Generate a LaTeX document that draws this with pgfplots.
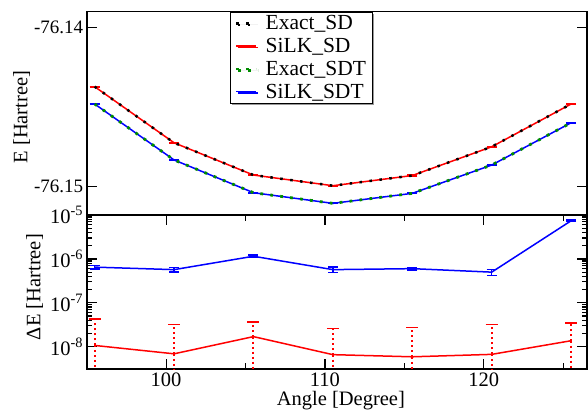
\documentclass[border=0pt]{standalone}
\usepackage{pgfplots}
\pgfplotsset{compat=1.18}
\usepackage{fontspec}
\setmainfont{Liberation Serif}
\usetikzlibrary{shadows}
\newcommand\ff{\fontsize{20.5}{22}\selectfont}
\newcommand\fl{\fontsize{21.5}{23}\selectfont}
\newcommand\fy{\fontsize{19}{21}\selectfont}
\definecolor{dgreen}{RGB}{0,140,0}
\begin{document}
\begin{tikzpicture}[x=1pt,y=1pt]
\pgfplotsset{
  every axis/.append style={
    scale only axis,
    width=500.3pt,
    axis line style={line width=1.6pt},
    every tick/.style={black,line width=1.2pt},
    major tick length=10pt,
    minor tick length=6pt,
    tick align=inside,
    tick label style={font=\ff},
    label style={font=\ff},
    clip=true,
  },
}
% ---------------- top panel ----------------
\begin{axis}[
  at={(86.7pt,197pt)}, anchor=south west,
  height=203.3pt,
  xmin=95, xmax=126.5,
  ymin=-76.151792, ymax=-76.139006,
  xtick=\empty,
  ytick={-76.15,-76.14},
  yticklabels={-76.15,-76.14},
  yticklabel style={font=\fy},
  ytick pos=both,
  ylabel={E [Hartree]},
  ylabel style={at={(axis description cs:-0.1303,0.482)}, anchor=center},
  legend cell align=left,
  legend image code/.code={\draw[#1] (0pt,0pt) -- (20pt,0pt);},
  legend style={at={(axis description cs:0.2864,1)}, anchor=north west,
    draw=black, line width=0.8pt, inner xsep=4.5pt, inner ysep=2.5pt,
    row sep=5pt, column sep=6pt,
    drop shadow={shadow xshift=1.5pt, shadow yshift=-1.5pt, fill=gray!80, opacity=1},
    nodes={font=\fl, inner xsep=2pt, inner ysep=1pt}},
]
\addlegendimage{black, line width=2.5pt, dash pattern=on 2.5pt off 7.5pt}
\addlegendentry{Exact\_SD}
\addlegendimage{red, line width=1.5pt}
\addlegendentry{SiLK\_SD}
\addlegendimage{dgreen, line width=2.8pt, dash pattern=on 2.8pt off 7.2pt}
\addlegendentry{Exact\_SDT}
\addlegendimage{blue, line width=1.5pt}
\addlegendentry{SiLK\_SDT}
% SiLK_SD
\addplot[red, line width=1.5pt, mark=none, forget plot,
  error bars/.cd, y dir=both, y explicit,
  error bar style={red, line width=1.5pt},
  error mark options={rotate=90, mark size=5pt, red, line width=1.5pt}]
coordinates {
 (95.5,-76.14372) +- (0,0.00002)
 (100.5,-76.14725) +- (0,0.00002)
 (105.5,-76.14928) +- (0,0.00002)
 (110.5,-76.14995) +- (0,0.00002)
 (115.5,-76.14931) +- (0,0.00002)
 (120.5,-76.14750) +- (0,0.00002)
 (125.5,-76.14481) +- (0,0.00002)
};
% Exact_SD
\addplot[black, line width=2.5pt, dash pattern=on 2.5pt off 7.5pt, mark=none, forget plot]
coordinates {
 (95.5,-76.14372) (100.5,-76.14725) (105.5,-76.14928) (110.5,-76.14995)
 (115.5,-76.14931) (120.5,-76.14750) (125.5,-76.14481)
};
% SiLK_SDT
\addplot[blue, line width=1.5pt, mark=none, forget plot,
  error bars/.cd, y dir=both, y explicit,
  error bar style={blue, line width=1.5pt},
  error mark options={rotate=90, mark size=5pt, blue, line width=1.5pt}]
coordinates {
 (95.5,-76.14481) +- (0,0.00002)
 (100.5,-76.14833) +- (0,0.00002)
 (105.5,-76.15039) +- (0,0.00002)
 (110.5,-76.15106) +- (0,0.00002)
 (115.5,-76.15043) +- (0,0.00002)
 (120.5,-76.14865) +- (0,0.00002)
 (125.5,-76.14599) +- (0,0.00002)
};
% Exact_SDT
\addplot[dgreen, line width=2.8pt, dash pattern=on 2.8pt off 7.2pt, mark=none, forget plot]
coordinates {
 (95.5,-76.14481) (100.5,-76.14833) (105.5,-76.15039) (110.5,-76.15106)
 (115.5,-76.15043) (120.5,-76.14865) (125.5,-76.14599)
};
\end{axis}
% ---------------- bottom panel ----------------
\begin{axis}[
  at={(86.7pt,43pt)}, anchor=south west,
  height=154pt,
  ymode=log,
  xmin=95, xmax=126.5,
  ymin=3.11e-9, ymax=1e-5,
  xtick={100,110,120},
  xticklabels={100,110,120},
  xtick pos=both,
  ytick={1e-8,1e-7,1e-6,1e-5},
  yticklabels={10\textsuperscript{-8},10\textsuperscript{-7},10\textsuperscript{-6},10\textsuperscript{-5}},
  ytick pos=both,
  minor tick length=5pt,
  xlabel={Angle [Degree]},
  xlabel style={at={(axis description cs:0.508,-0.236)}, anchor=base},
  ylabel={ΔE [Hartree]},
  ylabel style={at={(axis description cs:-0.104,0.532)}, anchor=center},
  extra x ticks={105,115,125},
  extra x tick labels={},
  extra x tick style={major tick length=6pt},
]
% SiLK_SDT deviation
\addplot[blue, line width=1.5pt, mark=none,
  error bars/.cd, y dir=both, y explicit,
  error bar style={blue, line width=1.5pt},
  error mark options={rotate=90, mark size=5pt, blue, line width=1.5pt}]
coordinates {
 (95.5,6.5e-7) +- (0,0.6e-7)
 (100.5,5.7e-7) +- (0,0.7e-7)
 (105.5,1.15e-6) +- (0,0.08e-6)
 (110.5,5.7e-7) +- (0,0.8e-7)
 (115.5,6.0e-7) +- (0,0.4e-7)
 (120.5,5.0e-7) +- (0,0.8e-7)
 (125.5,7.4e-6) +- (0,0.2e-6)
};
% SiLK_SD deviation
\addplot[red, line width=1.5pt, mark=none,
  error bars/.cd, y dir=both, y explicit,
  error bar style={red, line width=2pt, dash pattern=on 2pt off 3pt},
  error mark options={rotate=90, mark size=6pt, red, line width=1.8pt, solid}]
coordinates {
 (95.5,1.07e-8) += (0,3.13e-8) -= (0,1.06e-8)
 (100.5,6.9e-9) += (0,2.51e-8) -= (0,6.85e-9)
 (105.5,1.7e-8) += (0,2.0e-8) -= (0,1.69e-8)
 (110.5,6.6e-9) += (0,1.94e-8) -= (0,6.55e-9)
 (115.5,5.9e-9) += (0,2.16e-8) -= (0,5.85e-9)
 (120.5,6.7e-9) += (0,2.53e-8) -= (0,6.65e-9)
 (125.5,1.37e-8) += (0,2.08e-8) -= (0,1.36e-8)
};
\end{axis}
\pgfresetboundingbox
\path[use as bounding box] (0pt,0pt) rectangle (588pt,412pt);
\end{tikzpicture}
\end{document}
